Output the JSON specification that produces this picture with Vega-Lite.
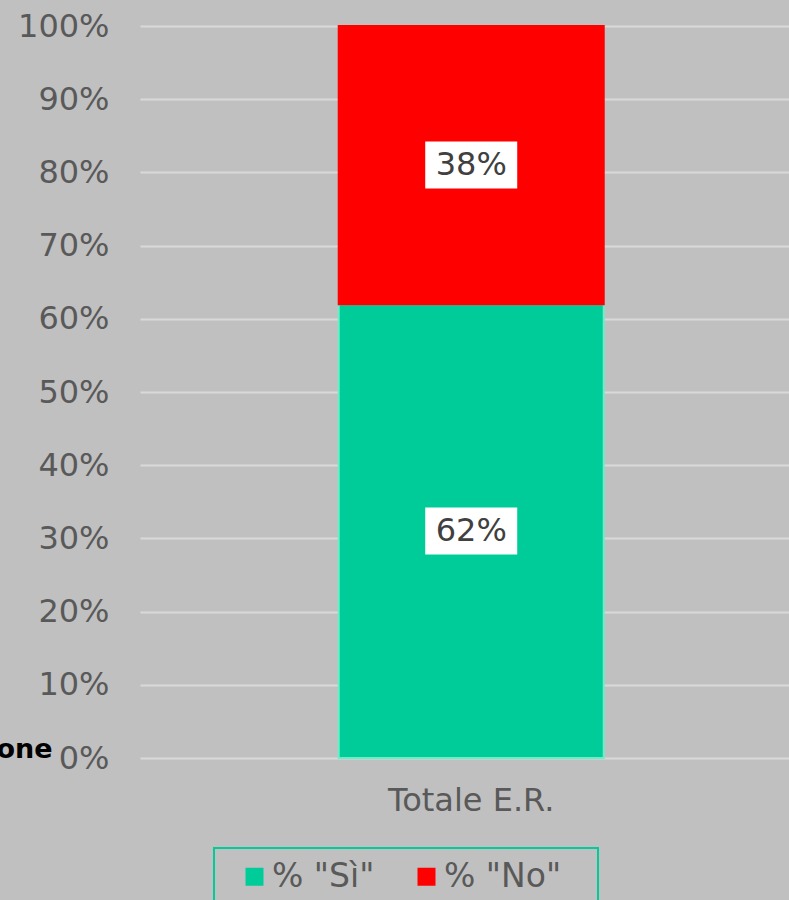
{
  "$schema": "https://vega.github.io/schema/vega-lite/v6.json",
  "width": 649,
  "height": 732,
  "autosize": {"type": "none"},
  "padding": {"left": 140, "top": 26, "right": 0, "bottom": 142},
  "background": "#c0c0c0",
  "config": {
    "view": {"stroke": null},
    "font": "DejaVu Sans",
    "axis": {"labelFont": "DejaVu Sans", "labelColor": "#595959", "labelFontSize": 32},
    "legend": {"labelFont": "DejaVu Sans", "strokeWidth": 2}
  },
  "data": {
    "values": [
      {"cat": "Totale E.R.", "serie": "% \"Sì\"", "val": 0.62, "ord": 1},
      {"cat": "Totale E.R.", "serie": "% \"No\"", "val": 0.38, "ord": 2}
    ]
  },
  "transform": [
    {"stack": "val", "groupby": ["cat"], "sort": [{"field": "ord", "order": "ascending"}], "as": ["y0", "y1"]},
    {"calculate": "(datum.y0 + datum.y1) / 2", "as": "mid"},
    {"calculate": "datum.mid - 0.0321", "as": "blo"},
    {"calculate": "datum.mid + 0.0321", "as": "bhi"}
  ],
  "encoding": {
    "x": {
      "field": "cat",
      "type": "nominal",
      "scale": {"paddingInner": 0, "paddingOuter": 0.7245, "align": 0.5175},
      "axis": {
        "title": null,
        "labelAngle": 0,
        "domain": false,
        "ticks": false,
        "labelPadding": 27,
        "labelBaseline": "top"
      }
    }
  },
  "layer": [
    {
      "mark": {"type": "bar", "strokeWidth": 2},
      "encoding": {
        "y": {
          "field": "y0",
          "type": "quantitative",
          "scale": {"domain": [0, 1], "nice": false},
          "axis": {
            "format": ".0%",
            "values": [0, 0.1, 0.2, 0.3, 0.4, 0.5, 0.6, 0.7, 0.8, 0.9, 1],
            "labelOverlap": false,
            "labelBound": false,
            "domain": false,
            "ticks": false,
            "labelPadding": 31,
            "gridColor": "#d9d9d9",
            "gridWidth": 2,
            "title": "Regione",
            "titleAngle": 0,
            "titleAlign": "right",
            "titleBaseline": "alphabetic",
            "titleX": -88,
            "titleY": 731,
            "titleFont": "DejaVu Sans",
            "titleFontSize": 27,
            "titleFontWeight": "bold",
            "titleColor": "#000000"
          }
        },
        "y2": {"field": "y1"},
        "color": {
          "field": "serie",
          "type": "nominal",
          "scale": {"domain": ["% \"Sì\"", "% \"No\""], "range": ["#00cc99", "#ff0000"]},
          "legend": {
            "orient": "none",
            "legendX": 74,
            "legendY": 822,
            "direction": "horizontal",
            "title": "\u00a0",
            "titleOrient": "left",
            "titleFontSize": 1,
            "titlePadding": 12,
            "padding": 12,
            "strokeColor": "#00cc99",
            "symbolType": "square",
            "symbolSize": 324,
            "symbolStrokeWidth": 0,
            "labelFontSize": 33,
            "labelColor": "#595959",
            "labelOffset": 1,
            "columnPadding": 11,
            "labelExpr": "datum.label + '\u2800'"
          }
        },
        "stroke": {
          "field": "serie",
          "type": "nominal",
          "scale": {"domain": ["% \"Sì\"", "% \"No\""], "range": ["#66f0c8", "#ff0000"]},
          "legend": null
        }
      }
    },
    {
      "mark": {"type": "bar", "width": 92, "color": "#ffffff"},
      "encoding": {
        "y": {"field": "blo", "type": "quantitative"},
        "y2": {"field": "bhi"}
      }
    },
    {
      "mark": {"type": "text", "fontSize": 32, "color": "#404040", "baseline": "middle", "font": "DejaVu Sans"},
      "encoding": {
        "y": {"field": "mid", "type": "quantitative"},
        "text": {"field": "val", "type": "quantitative", "format": ".0%"}
      }
    }
  ]
}
